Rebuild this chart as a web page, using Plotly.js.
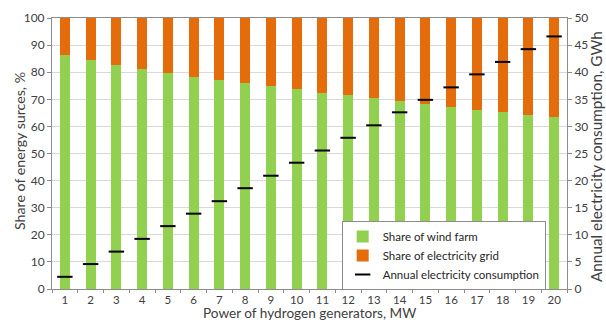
<!DOCTYPE html>
<html>
<head>
<meta charset="utf-8">
<script src="https://cdn.plot.ly/plotly-3.0.1.min.js"></script>
<style>html,body{margin:0;padding:0;background:#fff;}#chart{width:606px;height:322px;}</style>
</head>
<body>
<div id="chart"></div>
<script>
const powerMW = ["1","2","3","4","5","6","7","8","9","10","11","12","13","14","15","16","17","18","19","20"];
const windShare = [86.4,84.4,82.8,81.2,79.8,78.3,77.2,76.1,74.9,73.7,72.4,71.6,70.3,69.2,68.3,67.3,66.2,65.3,64.2,63.3];
const gridShare = windShare.map(v => +(100 - v).toFixed(1));
const consumptionGWh = [2.25,4.6,6.9,9.25,11.6,13.9,16.2,18.6,20.9,23.3,25.55,27.9,30.2,32.6,34.9,37.2,39.6,41.9,44.25,46.6];
const xTitle = 'Power of hydrogen generators, MW';
const yTitle = 'Share of energy surces, %';
const y2Title = 'Annual electricity consumption, GWh';

const FONT = "Lato, 'Open Sans', sans-serif";
const traces = [
  {type:'bar', name:'Share of wind farm', x:powerMW, y:windShare, marker:{color:'#92D050'}, width:0.39},
  {type:'bar', name:'Share of electricity grid', x:powerMW, y:gridShare, marker:{color:'#E46C0A'}, width:0.39},
  {type:'scatter', mode:'markers', name:'Annual electricity consumption', x:powerMW, y:consumptionGWh, yaxis:'y2',
   marker:{symbol:'line-ew', size:11, color:'#000', line:{color:'#000', width:2}}}
];
const titleFont = {family:FONT, color:'#404040'};
const layout = {
  width:606, height:322,
  margin:{l:52, r:39, t:18, b:33},
  barmode:'stack',
  paper_bgcolor:'#fff', plot_bgcolor:'#fff',
  font:{family:FONT, size:12, color:'#404040'},
  showlegend:true,
  legend:{x:0.5625, y:0.251, xanchor:'left', yanchor:'top', bgcolor:'#fff', bordercolor:'#8c8c8c', borderwidth:1,
          font:{family:FONT, size:11.5, color:'#262626'}, traceorder:'normal', tracegroupgap:0, itemwidth:30},
  xaxis:{type:'category', range:[-0.5,19.5], autorange:false, showline:true, linecolor:'#8c8c8c', mirror:true,
         ticks:'outside', tickson:'boundaries', ticklen:3, tickcolor:'#8c8c8c', showgrid:false,
         ticklabelstandoff:0, tickfont:{size:11.5, color:'#404040'}},
  yaxis:{range:[0,100], dtick:10, showline:true, linecolor:'#8c8c8c', ticks:'outside', ticklen:4, tickcolor:'#8c8c8c',
         gridcolor:'#d9d9d9', zeroline:false, tickfont:{size:12, color:'#404040'}},
  yaxis2:{overlaying:'y', side:'right', range:[0,50], dtick:5, showline:true, linecolor:'#8c8c8c', ticks:'outside',
          ticklen:4, tickcolor:'#8c8c8c', showgrid:false, zeroline:false, tickfont:{size:12, color:'#404040'}},
  annotations:[
    {text:xTitle, xref:'paper', yref:'paper', x:0.5, y:-33/271, xanchor:'center', yanchor:'bottom', showarrow:false,
     borderpad:0, font:Object.assign({size:13.6}, titleFont)},
    {text:yTitle, xref:'paper', yref:'paper', x:(19-52)/515, y:(289-151)/271, xanchor:'center', yanchor:'middle',
     textangle:-90, showarrow:false, font:Object.assign({size:14.2}, titleFont)},
    {text:y2Title, xref:'paper', yref:'paper', x:(596-52)/515, y:(289-157)/271, xanchor:'center', yanchor:'middle',
     textangle:-90, showarrow:false, borderpad:0, font:Object.assign({size:15.3}, titleFont)}
  ]
};
Plotly.newPlot('chart', traces, layout, {displayModeBar:false, staticPlot:true});
</script>
</body>
</html>
